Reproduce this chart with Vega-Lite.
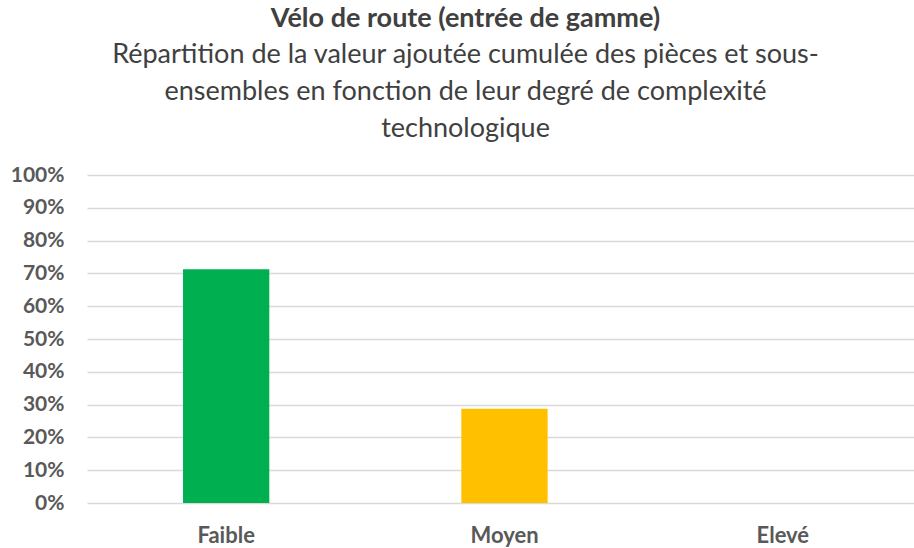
{
  "$schema": "https://vega.github.io/schema/vega-lite/v6.json",
  "width": 835,
  "height": 328,
  "autosize": {"type": "none"},
  "padding": {"left": 87, "top": 175, "right": 0, "bottom": 45},
  "background": "white",
  "title": {
    "text": "Vélo de route (entrée de gamme)",
    "subtitle": ["Répartition de la valeur ajoutée cumulée des pièces et sous-", "ensembles en fonction de leur degré de complexité", "technologique"],
    "anchor": "middle",
    "frame": "group",
    "dx": -39,
    "font": "Lato",
    "fontSize": 27,
    "fontWeight": "bold",
    "color": "#404040",
    "subtitleFont": "Lato",
    "subtitleFontSize": 27,
    "subtitleColor": "#404040",
    "subtitleLineHeight": 37,
    "subtitlePadding": 9,
    "offset": 21
  },
  "data": {
    "values": [
      {"niveau": "Faible", "part": 0.713},
      {"niveau": "Moyen", "part": 0.287},
      {"niveau": "Elevé", "part": 0}
    ]
  },
  "mark": {"type": "bar"},
  "encoding": {
    "x": {
      "field": "niveau",
      "type": "nominal",
      "sort": ["Faible", "Moyen", "Elevé"],
      "scale": {"paddingInner": 0.69, "paddingOuter": 0.345},
      "axis": {
        "title": null,
        "labelAngle": 0,
        "ticks": false,
        "domain": false,
        "labelFont": "Lato",
        "labelFontSize": 22,
        "labelFontWeight": "bold",
        "labelColor": "#595959",
        "labelPadding": 22
      }
    },
    "y": {
      "field": "part",
      "type": "quantitative",
      "scale": {"domain": [0, 1]},
      "axis": {
        "title": null,
        "format": ".0%",
        "values": [0, 0.1, 0.2, 0.3, 0.4, 0.5, 0.6, 0.7, 0.8, 0.9, 1],
        "labelOverlap": false,
        "ticks": false,
        "domain": false,
        "grid": true,
        "gridColor": "#D9D9D9",
        "gridWidth": 1.5,
        "labelFont": "Lato",
        "labelFontSize": 21,
        "labelFontWeight": "bold",
        "labelColor": "#595959",
        "labelPadding": 23
      }
    },
    "color": {
      "field": "niveau",
      "type": "nominal",
      "scale": {"domain": ["Faible", "Moyen", "Elevé"], "range": ["#00B050", "#FFC000", "#C00000"]},
      "legend": null
    }
  },
  "config": {"view": {"stroke": null}}
}
